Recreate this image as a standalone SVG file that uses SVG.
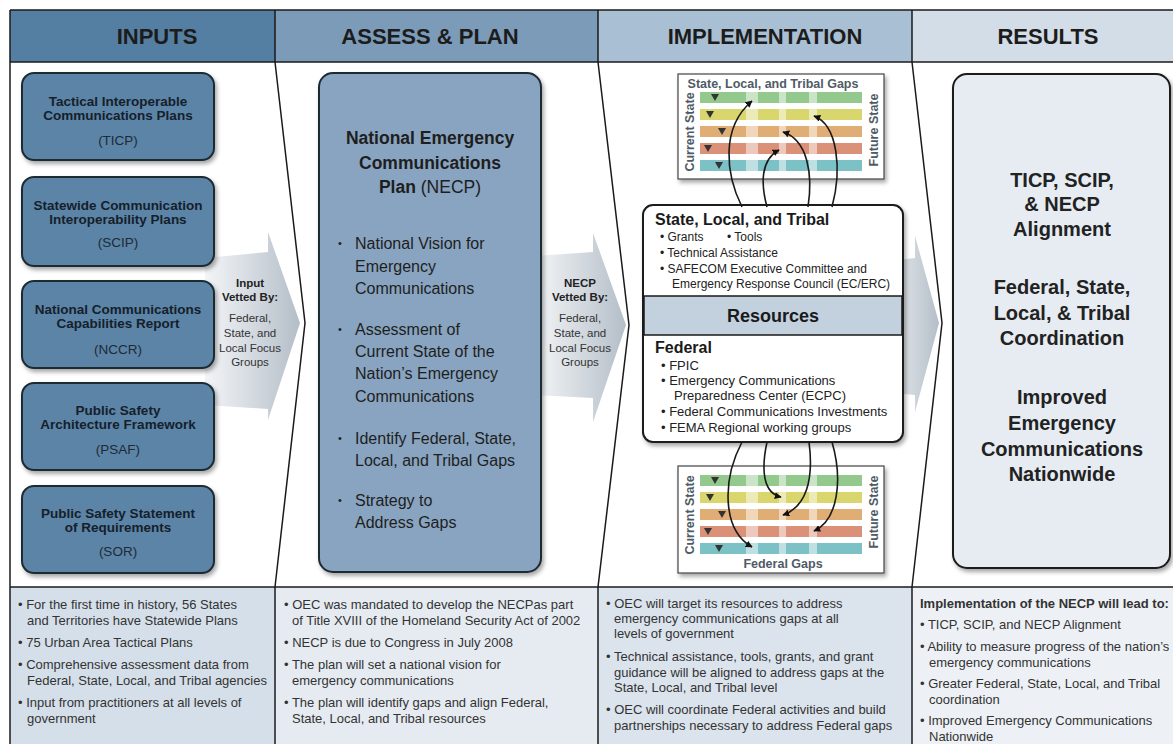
<svg xmlns="http://www.w3.org/2000/svg" width="1173" height="744" viewBox="0 0 1173 744">
<defs>
<style>
text{font-family:"Liberation Sans",Arial,sans-serif;}
.hd{font-size:22px;font-weight:bold;fill:#1c1c1c;text-anchor:middle;}
.ib{fill:#5b84a7;stroke:#1e2a33;stroke-width:2;}
.it{font-size:13.5px;font-weight:bold;fill:#15202a;text-anchor:middle;}
.ia{font-size:13.5px;fill:#1e2a35;text-anchor:middle;}
.vb{font-size:11.5px;font-weight:bold;fill:#222;text-anchor:middle;}
.vr{font-size:11.5px;fill:#333;text-anchor:middle;}
.nt{font-size:17.5px;font-weight:bold;fill:#1e1e1e;text-anchor:middle;}
.nb{font-size:16px;fill:#1e1e1e;}
.nd{font-size:11px;fill:#1e1e1e;}
.rt{font-size:20px;font-weight:bold;fill:#222;text-anchor:middle;}
.rh{font-size:16px;font-weight:bold;fill:#1a1a1a;}
.rs{font-size:12px;fill:#222;}
.rf{font-size:13px;fill:#222;}
.bt{font-size:13px;fill:#333;}
.ct{font-size:12.5px;font-weight:bold;fill:#4f5b66;text-anchor:middle;}
.cs{font-size:12.5px;font-weight:bold;fill:#4f5b66;text-anchor:middle;}
.ln{stroke:#1a1a1a;stroke-width:1.5;fill:none;}
.cv{stroke:#1a1a1a;stroke-width:1.6;fill:none;marker-end:url(#ah);}
.tri{fill:#333;}
</style>
<filter id="sh" x="-10%" y="-10%" width="130%" height="130%">
<feDropShadow dx="2" dy="3" stdDeviation="2" flood-color="#000" flood-opacity="0.35"/>
</filter>
<linearGradient id="ag" x1="0" y1="0" x2="1" y2="0">
<stop offset="0" stop-color="#f3f5f7"/>
<stop offset="1" stop-color="#b4bec8"/>
</linearGradient>
<marker id="ah" viewBox="0 0 10 10" refX="9" refY="5" markerWidth="7" markerHeight="7" orient="auto" markerUnits="userSpaceOnUse">
<path d="M0,0 L10,5 L0,10 z" fill="#111"/>
</marker>
<g id="bars">
<rect x="700" y="0" width="162" height="11" fill="#93c98c"/>
<rect x="700" y="17" width="162" height="11" fill="#d9d66e"/>
<rect x="700" y="34" width="162" height="11" fill="#e0ae75"/>
<rect x="700" y="51" width="162" height="11" fill="#da9178"/>
<rect x="700" y="68" width="162" height="11" fill="#7cc1c5"/>
<rect x="746" y="0" width="12" height="79" fill="#fff" opacity="0.5"/>
<rect x="779" y="0" width="7" height="79" fill="#fff" opacity="0.5"/>
<rect x="809" y="0" width="8" height="79" fill="#fff" opacity="0.5"/>
<path class="tri" d="M711,2 L719,2 L715,9 z"/>
<path class="tri" d="M706,19 L714,19 L710,26 z"/>
<path class="tri" d="M718,36 L726,36 L722,43 z"/>
<path class="tri" d="M704,53 L712,53 L708,60 z"/>
<path class="tri" d="M715,70 L723,70 L719,77 z"/>
</g>
</defs>

<rect width="1173" height="744" fill="#fff"/>

<g id="frame">
<rect x="10" y="10" width="265" height="52" fill="#557fa2"/>
<rect x="275" y="10" width="323" height="52" fill="#7c9bb8"/>
<rect x="598" y="10" width="314" height="52" fill="#a9bfd4"/>
<rect x="912" y="10" width="261" height="52" fill="#d2dde8"/>
<rect x="10" y="587" width="265" height="157" fill="#d5dfe9"/>
<rect x="275" y="587" width="323" height="157" fill="#e5ebf1"/>
<rect x="598" y="587" width="314" height="157" fill="#dbe3ec"/>
<rect x="912" y="587" width="261" height="157" fill="#edf1f5"/>
</g>

<g id="arrows-bg">
<path d="M205,258 L268,252 L268,232 L300,323 L268,420 L268,409 L205,405 z" fill="url(#ag)"/>
<path d="M535,256 L593,252 L593,233 L626,325 L593,422 L593,398 L535,395 z" fill="url(#ag)"/>
<path d="M880,262 L915,258 L915,236 L939,323 L915,412 L915,395 L880,392 z" fill="url(#ag)"/>
</g>

<g id="header-labels">
<text class="hd" x="157" y="44">INPUTS</text>
<text class="hd" x="430" y="44">ASSESS &amp; PLAN</text>
<text class="hd" x="765" y="44">IMPLEMENTATION</text>
<text class="hd" x="1048" y="44">RESULTS</text>
</g>

<g id="dividers">
<line class="ln" x1="10" y1="10" x2="1173" y2="10"/>
<line class="ln" x1="10" y1="62" x2="1173" y2="62"/>
<line class="ln" x1="10" y1="587" x2="1173" y2="587"/>
<line class="ln" x1="10" y1="10" x2="10" y2="744" stroke-width="2"/>
<line class="ln" x1="275" y1="10" x2="275" y2="62" stroke-width="1"/>
<line class="ln" x1="598" y1="10" x2="598" y2="62" stroke-width="1"/>
<line class="ln" x1="912" y1="10" x2="912" y2="62" stroke-width="1"/>
<polyline class="ln" points="275,62 305,323 275,587"/>
<polyline class="ln" points="598,62 629,325 598,587"/>
<polyline class="ln" points="912,62 942,323 912,587"/>
<line class="ln" x1="275" y1="587" x2="275" y2="744"/>
<line class="ln" x1="598" y1="587" x2="598" y2="744"/>
<line class="ln" x1="912" y1="587" x2="912" y2="744"/>
</g>

<g id="ticp">
<rect class="ib" x="22" y="73" width="192" height="87" rx="12" filter="url(#sh)"/>
<text class="it" x="118" y="106">Tactical Interoperable</text>
<text class="it" x="118" y="120">Communications Plans</text>
<text class="ia" x="118" y="145">(TICP)</text>
</g>
<g id="scip">
<rect class="ib" x="22" y="177" width="192" height="89" rx="12" filter="url(#sh)"/>
<text class="it" x="118" y="210">Statewide Communication</text>
<text class="it" x="118" y="224">Interoperability Plans</text>
<text class="ia" x="118" y="247">(SCIP)</text>
</g>
<g id="nccr">
<rect class="ib" x="22" y="281" width="192" height="87" rx="12" filter="url(#sh)"/>
<text class="it" x="118" y="314">National Communications</text>
<text class="it" x="118" y="328">Capabilities Report</text>
<text class="ia" x="118" y="354">(NCCR)</text>
</g>
<g id="psaf">
<rect class="ib" x="22" y="383" width="192" height="87" rx="12" filter="url(#sh)"/>
<text class="it" x="118" y="415">Public Safety</text>
<text class="it" x="118" y="429">Architecture Framework</text>
<text class="ia" x="118" y="454">(PSAF)</text>
</g>
<g id="sor">
<rect class="ib" x="22" y="486" width="192" height="87" rx="12" filter="url(#sh)"/>
<text class="it" x="118" y="518">Public Safety Statement</text>
<text class="it" x="118" y="532">of Requirements</text>
<text class="ia" x="118" y="556">(SOR)</text>
</g>

<g id="input-vetted">
<text class="vb" x="250" y="287">Input</text>
<text class="vb" x="250" y="301">Vetted By:</text>
<text class="vr" x="250" y="322">Federal,</text>
<text class="vr" x="250" y="337">State, and</text>
<text class="vr" x="250" y="352">Local Focus</text>
<text class="vr" x="250" y="366">Groups</text>
</g>

<g id="necp">
<rect x="319" y="73" width="222" height="499" rx="14" fill="#88a4c0" stroke="#1e2a33" stroke-width="2" filter="url(#sh)"/>
<text class="nt" x="430" y="144">National Emergency</text>
<text class="nt" x="430" y="169">Communications</text>
<text class="nt" x="430" y="193">Plan <tspan font-weight="normal">(NECP)</tspan></text>
<text class="nd" x="338" y="247">•</text>
<text class="nb" x="355" y="249">National Vision for</text>
<text class="nb" x="355" y="272">Emergency</text>
<text class="nb" x="355" y="294">Communications</text>
<text class="nd" x="338" y="333">•</text>
<text class="nb" x="355" y="335">Assessment of</text>
<text class="nb" x="355" y="357">Current State of the</text>
<text class="nb" x="355" y="379">Nation’s Emergency</text>
<text class="nb" x="355" y="402">Communications</text>
<text class="nd" x="338" y="442">•</text>
<text class="nb" x="355" y="444">Identify Federal, State,</text>
<text class="nb" x="355" y="466">Local, and Tribal Gaps</text>
<text class="nd" x="338" y="504">•</text>
<text class="nb" x="355" y="506">Strategy to</text>
<text class="nb" x="355" y="528">Address Gaps</text>
</g>

<g id="necp-vetted">
<text class="vb" x="580" y="287">NECP</text>
<text class="vb" x="580" y="301">Vetted By:</text>
<text class="vr" x="580" y="322">Federal,</text>
<text class="vr" x="580" y="337">State, and</text>
<text class="vr" x="580" y="352">Local Focus</text>
<text class="vr" x="580" y="366">Groups</text>
</g>

<g id="slt-gaps">
<rect x="678" y="74" width="206" height="105" fill="#fff" stroke="#444" stroke-width="1.2" filter="url(#sh)"/>
<text class="ct" x="773" y="88">State, Local, and Tribal Gaps</text>
<text class="cs" transform="translate(694,132) rotate(-90)">Current State</text>
<text class="cs" transform="translate(878,130) rotate(-90)">Future State</text>
<use href="#bars" transform="translate(0,92)"/>
</g>

<g id="federal-gaps">
<rect x="678" y="466" width="206" height="107" fill="#fff" stroke="#444" stroke-width="1.2" filter="url(#sh)"/>
<text class="ct" x="783" y="568">Federal Gaps</text>
<text class="cs" transform="translate(694,515) rotate(-90)">Current State</text>
<text class="cs" transform="translate(878,512) rotate(-90)">Future State</text>
<use href="#bars" transform="translate(0,475)"/>
</g>

<g id="resources">
<rect x="643" y="205" width="260" height="237" rx="10" fill="#fff" stroke="#1a1a1a" stroke-width="2" filter="url(#sh)"/>
<rect x="644" y="296" width="258" height="39" fill="#c3d1df" stroke="#1a1a1a" stroke-width="1.5"/>
<text class="rh" x="655" y="225">State, Local, and Tribal</text>
<text class="rs" x="660" y="241">•  Grants</text>
<text class="rs" x="727" y="241">•  Tools</text>
<text class="rs" x="660" y="257">•  Technical Assistance</text>
<text class="rs" x="660" y="273">•  SAFECOM Executive Committee and</text>
<text class="rs" x="672" y="288">Emergency Response Council (EC/ERC)</text>
<text x="773" y="322" font-size="18" font-weight="bold" fill="#1a1a1a" text-anchor="middle">Resources</text>
<text class="rh" x="655" y="353">Federal</text>
<text class="rf" x="661" y="370">•  FPIC</text>
<text class="rf" x="661" y="385">•  Emergency Communications</text>
<text class="rf" x="674" y="400">Preparedness Center (ECPC)</text>
<text class="rf" x="661" y="416">•  Federal Communications Investments</text>
<text class="rf" x="661" y="432">•  FEMA Regional working groups</text>
</g>

<g id="connectors">
<path class="cv" d="M742,207 C726,175 720,128 752,101"/>
<path class="cv" d="M767,207 C761,185 760,160 779,150"/>
<path class="cv" d="M808,207 C813,175 808,140 783,132"/>
<path class="cv" d="M832,207 C842,170 838,125 814,116"/>
<path class="cv" d="M742,442 C722,480 722,530 752,547"/>
<path class="cv" d="M767,442 C761,470 763,493 781,497"/>
<path class="cv" d="M809,442 C814,480 806,507 783,515"/>
<path class="cv" d="M832,442 C843,480 838,520 814,531"/>
</g>

<g id="results">
<rect x="953" y="74" width="217" height="494" rx="14" fill="#e6ecf2" stroke="#1a1a1a" stroke-width="2" filter="url(#sh)"/>
<text class="rt" x="1062" y="187">TICP, SCIP,</text>
<text class="rt" x="1062" y="211">&amp; NECP</text>
<text class="rt" x="1062" y="236">Alignment</text>
<text class="rt" x="1062" y="294">Federal, State,</text>
<text class="rt" x="1062" y="320">Local, &amp; Tribal</text>
<text class="rt" x="1062" y="345">Coordination</text>
<text class="rt" x="1062" y="404">Improved</text>
<text class="rt" x="1062" y="430">Emergency</text>
<text class="rt" x="1062" y="456">Communications</text>
<text class="rt" x="1062" y="481">Nationwide</text>
</g>

<g id="notes-inputs">
<text class="bt" x="18" y="609">• For the first time in history, 56 States</text>
<text class="bt" x="27" y="625">and Territories have Statewide Plans</text>
<text class="bt" x="18" y="647">• 75 Urban Area Tactical Plans</text>
<text class="bt" x="18" y="669">• Comprehensive assessment data from</text>
<text class="bt" x="27" y="685">Federal, State, Local, and Tribal agencies</text>
<text class="bt" x="18" y="707">• Input from practitioners at all levels of</text>
<text class="bt" x="27" y="723">government</text>
</g>

<g id="notes-assess">
<text class="bt" x="284" y="609">• OEC was mandated to develop the NECPas part</text>
<text class="bt" x="292" y="625">of Title XVIII of the Homeland Security Act of 2002</text>
<text class="bt" x="284" y="647">• NECP is due to Congress in July 2008</text>
<text class="bt" x="284" y="669">• The plan will set a national vision for</text>
<text class="bt" x="292" y="685">emergency communications</text>
<text class="bt" x="284" y="707">• The plan will identify gaps and align Federal,</text>
<text class="bt" x="292" y="723">State, Local, and Tribal resources</text>
</g>

<g id="notes-impl">
<text class="bt" x="606" y="608">• OEC will target its resources to address</text>
<text class="bt" x="614" y="623">emergency communications gaps at all</text>
<text class="bt" x="614" y="638">levels of government</text>
<text class="bt" x="606" y="661">• Technical assistance, tools, grants, and grant</text>
<text class="bt" x="614" y="677">guidance will be aligned to address gaps at the</text>
<text class="bt" x="614" y="692">State, Local, and Tribal level</text>
<text class="bt" x="606" y="714">• OEC will coordinate Federal activities and build</text>
<text class="bt" x="614" y="730">partnerships necessary to address Federal gaps</text>
</g>

<g id="notes-results">
<text class="bt" x="920" y="608" font-size="12" font-weight="bold" fill="#222">Implementation of the NECP will lead to:</text>
<text class="bt" x="920" y="629">• TICP, SCIP, and NECP Alignment</text>
<text class="bt" x="920" y="651">• Ability to measure progress of the nation’s</text>
<text class="bt" x="929" y="667">emergency communications</text>
<text class="bt" x="920" y="688">• Greater Federal, State, Local, and Tribal</text>
<text class="bt" x="929" y="704">coordination</text>
<text class="bt" x="920" y="725">• Improved Emergency Communications</text>
<text class="bt" x="929" y="741">Nationwide</text>
</g>
</svg>
